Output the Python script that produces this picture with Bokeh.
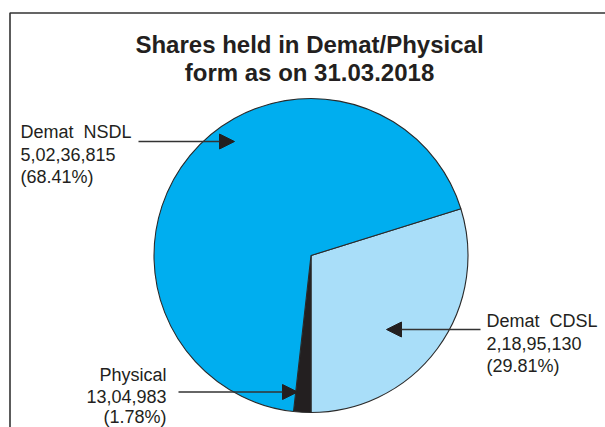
import numpy as np
from bokeh.plotting import figure
from bokeh.models import Range1d, Arrow, NormalHead, ColumnDataSource
from bokeh.core.properties import value
from bokeh.embed import file_html
from bokeh.resources import INLINE

# ---- data ----
categories = ["Demat CDSL", "Physical", "Demat NSDL"]
shares = [21895130, 1304983, 50236815]
share_labels = ["2,18,95,130", "13,04,983", "5,02,36,815"]
pct_labels = ["(29.81%)", "(1.78%)", "(68.41%)"]
colors = ["#A9DEF9", "#231F20", "#00AEEF"]
title_lines = ["Shares held in Demat/Physical", "form as on 31.03.2018"]

W, H = 605, 427
PAGE_H = 427


def Y(py):
    return PAGE_H - py


p = figure(width=W, height=H, output_backend="svg", toolbar_location=None,
           x_range=Range1d(0, W), y_range=Range1d(Y(H), Y(0)),
           min_border=0, outline_line_color=None)
p.axis.visible = False
p.grid.visible = False
p.background_fill_color = "white"

# frame
p.line([9.5, 9.5, W + 5], [Y(H + 5), Y(12.5), Y(12.5)], line_color="#333333", line_width=1.6)

# pie
vals = np.array(shares, dtype=float)
frac = vals / vals.sum()
start0 = np.deg2rad(-90) + frac[0] * 2 * np.pi  # first slice ends straight down
ends = start0 - np.cumsum(frac) * 2 * np.pi
starts = np.concatenate([[start0], ends[:-1]])
src = ColumnDataSource(dict(start=starts, end=ends, color=colors, cat=categories))
cx, cy, r = 310.5, Y(255), 157
p.wedge(x=cx, y=cy, radius=r, start_angle="start", end_angle="end", direction="clock",
        fill_color="color", line_color="#2a2a2a", line_width=1.1, source=src)

# title
p.text(x=[309, 309], y=[Y(44), Y(72)], text=title_lines, text_font=value("Liberation Sans"),
       text_font_style="bold", text_font_size="24px", text_align="center",
       text_baseline="alphabetic", text_color="#231F20")

NB = "\u00a0"
lab_font = value("Liberation Sans")
lab_size = "18px"
lab_col = "#231F20"
# NSDL label (left aligned)
p.text(x=[20] * 3, y=[Y(131), Y(154), Y(176)],
       text=["Demat" + NB + " NSDL", share_labels[2], pct_labels[2]],
       text_font=lab_font, text_font_size=lab_size, text_align="left",
       text_baseline="alphabetic", text_color=lab_col)
# CDSL label
p.text(x=[486] * 3, y=[Y(320), Y(343), Y(365)],
       text=["Demat" + NB + " CDSL", share_labels[0], pct_labels[0]],
       text_font=lab_font, text_font_size=lab_size, text_align="left",
       text_baseline="alphabetic", text_color=lab_col)
# Physical label (right aligned)
p.text(x=[166] * 3, y=[Y(374), Y(396), Y(416)],
       text=["Physical", share_labels[1], pct_labels[1]],
       text_font=lab_font, text_font_size=lab_size, text_align="right",
       text_baseline="alphabetic", text_color=lab_col)

# arrows
for (x0, y0, x1, y1) in [(138, 141, 234, 141), (480, 329, 386, 329), (178, 391.5, 297, 391.5)]:
    p.add_layout(Arrow(end=NormalHead(size=15, fill_color="#231F20", line_color="#231F20"),
                       x_start=x0, y_start=Y(y0), x_end=x1, y_end=Y(y1),
                       line_color="#333333", line_width=1.4))

open("out.html", "w").write(file_html(p, INLINE))
